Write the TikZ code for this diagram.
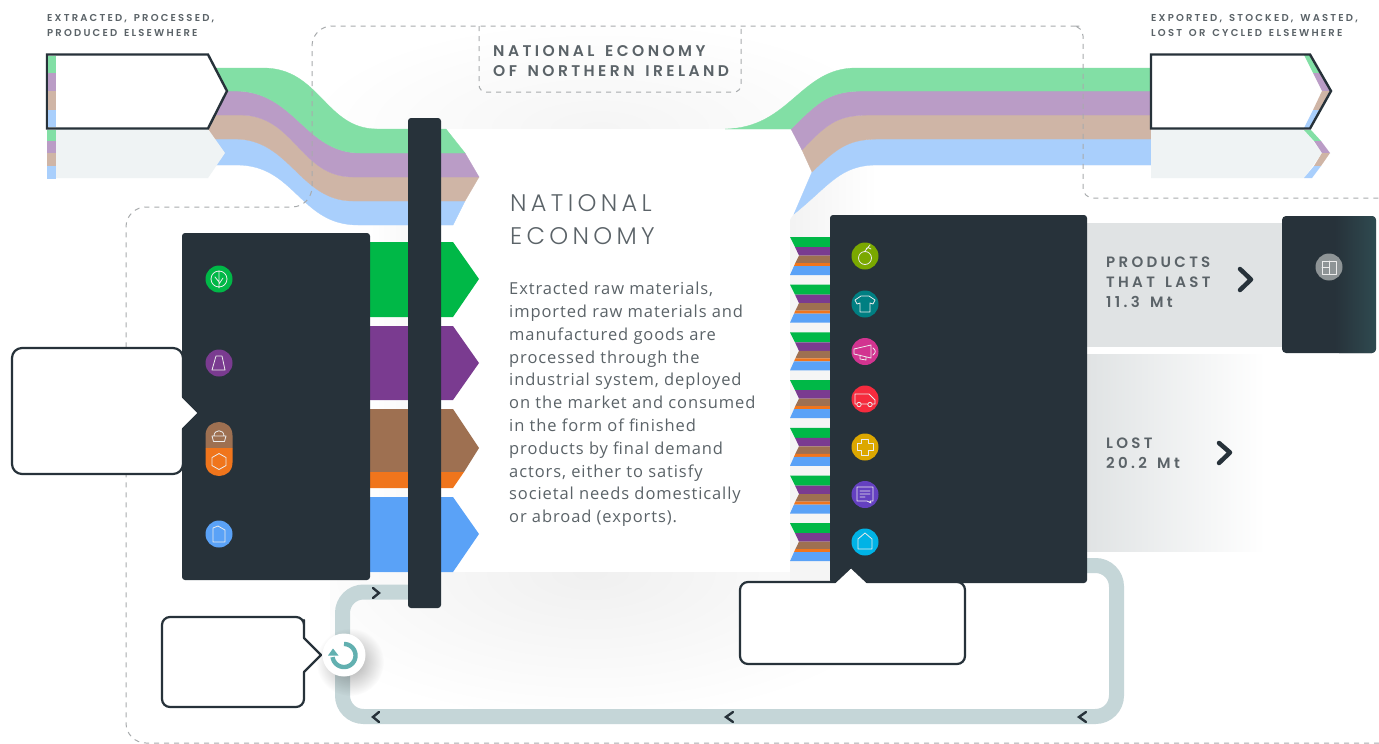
\documentclass[tikz,border=0pt]{standalone}
\usepackage{fontspec}
\setmainfont{Open Sans}
\newfontfamily\hdrfont[LetterSpace=22,WordSpace=1.5,UprightFont={* SemiBold}]{Poppins}
\newfontfamily\lightfont[LetterSpace=18,UprightFont={* Light}]{Poppins}
\newfontfamily\bodyfont[LetterSpace=5.5]{Open Sans}
\usetikzlibrary{fadings}
\definecolor{dark}{HTML}{27323A}
\definecolor{txt}{HTML}{5B6368}
\definecolor{lgreen}{HTML}{82DFA5}
\definecolor{lpurple}{HTML}{BA9CC6}
\definecolor{ltan}{HTML}{CFB5A6}
\definecolor{lblue}{HTML}{A9CFFC}
\definecolor{cgreen}{HTML}{00B847}
\definecolor{cpurple}{HTML}{7A3B90}
\definecolor{cbrown}{HTML}{9E7051}
\definecolor{corange}{HTML}{F0751C}
\definecolor{cblue}{HTML}{5AA2F7}
\definecolor{paleg}{HTML}{EFF3F4}
\definecolor{ring}{HTML}{C5D6D8}
\definecolor{teal2}{HTML}{62B0B0}
\definecolor{dashc}{HTML}{A8ABAD}
\definecolor{iapple}{HTML}{7AA800}
\definecolor{ishirt}{HTML}{007F82}
\definecolor{imega}{HTML}{D23490}
\definecolor{ivan}{HTML}{F52B3E}
\definecolor{icross}{HTML}{DCA700}
\definecolor{ichat}{HTML}{6440C0}
\definecolor{ihouse}{HTML}{00B3E6}
\definecolor{iwin}{HTML}{8E9496}
\definecolor{darkend}{HTML}{2F4A50}
\definecolor{sideg}{HTML}{E0E3E4}
\tikzfading[name=softc, inner color=transparent!65, outer color=transparent!100]
\tikzset{
  ic/.style={draw=white!85!gray, line width=0.8pt, line join=round, line cap=round},
  darkbox/.style={fill=dark, rounded corners=3pt},
  bubble/.style={draw=dark, fill=white, line width=2.2pt, line join=round},
  chev/.style={draw=dark, line width=4.5pt, line cap=round, line join=round},
  smallchev/.style={draw=dark, line width=2.4pt, line cap=round, line join=miter},
  dashline/.style={draw=dashc, line width=1pt, dash pattern=on 5pt off 5pt},
  smalltxt/.style={anchor=north west, inner sep=0pt, align=left, text=txt, font=\hdrfont\fontsize{10}{15}\selectfont},
  sidetxt/.style={anchor=north west, inner sep=0pt, align=left, text=txt, font=\hdrfont\fontsize{15}{20}\selectfont}
}
\begin{document}
\begin{tikzpicture}[x=1pt,y=-1pt]
\useasboundingbox (0,0) rectangle (1379,744);
\fill[white] (0,0) rectangle (1379,744);
% soft backgrounds
\begin{scope}
\clip (300,20) rectangle (860,129);
\shade[inner color=black!4, outer color=white] (600,129) ellipse [x radius=300, y radius=110];
\end{scope}
\begin{scope}
\clip (330,572) rectangle (860,720);
\shade[inner color=black!6, outer color=white] (590,572) ellipse [x radius=330, y radius=150];
\end{scope}
\shade[left color=white, right color=black!5] (370,215) rectangle (441,572);
\shade[left color=black!5, right color=white] (794,214) .. controls (830,185) and (840,165) .. (877,165) -- (877,237) -- (790,237) .. controls (787,230) and (787,222) .. (794,214) -- cycle;
\fill[black!4] (790,237) rectangle (830,586);
\fill[white] (441,129) rectangle (789.5,572);
% cycle ring
\draw[ring, line width=15pt, rounded corners=21pt] (420,592) -- (342.5,592) -- (342.5,716.5) -- (1116.5,716.5) -- (1116.5,565.5) -- (1080,565.5);
\draw[smallchev] (373,588) -- (379,593) -- (373,598);
\draw[smallchev] (379,712) -- (373,717) -- (379,722);
\draw[smallchev] (733,712) -- (726,717) -- (733,722);
\draw[smallchev] (1086,712) -- (1079,717) -- (1086,722);
% left flows
\fill[lblue,draw=lblue,line width=.3pt] (200,139) -- (235,139) .. controls (290,139) and (300,201) .. (353,201) -- (465,201) -- (453,225) -- (358,225) .. controls (300,225) and (295,165) .. (237,165) -- (200,165) -- cycle;
\fill[ltan,draw=ltan,line width=.3pt] (200,115) -- (240,115) .. controls (295,115) and (300,177) .. (353,177) -- (479,177) -- (465,201) -- (353,201) .. controls (300,201) and (290,139) .. (235,139) -- (200,139) -- cycle;
\fill[lpurple,draw=lpurple,line width=.3pt] (200,91) -- (235,91) .. controls (295,91) and (305,153) .. (360,153) -- (465,153) -- (479,177) -- (353,177) .. controls (300,177) and (295,115) .. (240,115) -- (200,115) -- cycle;
\fill[lgreen,draw=lgreen,line width=.3pt] (200,68) -- (263,68) .. controls (320,68) and (325,129) .. (377,129) -- (446,129) -- (465,153) -- (360,153) .. controls (305,153) and (295,91) .. (235,91) -- (200,91) -- cycle;
% right flows
\fill[lblue,draw=lblue,line width=.3pt] (812,172) .. controls (840,145) and (850,139) .. (882,139) -- (1155,139) -- (1155,165) -- (877,165) .. controls (840,165) and (830,185) .. (794,214) -- cycle;
\fill[ltan,draw=ltan,line width=.3pt] (802,150) .. controls (830,120) and (840,115) .. (873,115) -- (1155,115) -- (1155,139) -- (882,139) .. controls (850,139) and (840,145) .. (812,172) -- cycle;
\fill[lpurple,draw=lpurple,line width=.3pt] (791,129) .. controls (820,100) and (830,91) .. (865,91) -- (1155,91) -- (1155,115) -- (873,115) .. controls (840,115) and (830,120) .. (802,150) -- cycle;
\fill[lgreen,draw=lgreen,line width=.3pt] (725,129) .. controls (790,128) and (800,68) .. (856,68) -- (1155,68) -- (1155,91) -- (865,91) .. controls (830,91) and (820,100) .. (791,129) -- cycle;
% dashed boundaries
\draw[dashline, rounded corners=20pt] (1379,743) -- (126,743) -- (126,207) -- (312,207) -- (312,26) -- (1060,26) [rounded corners=10pt] -- (1083,26) -- (1083,198) -- (1379,198);
\draw[dashline, rounded corners=7pt] (479,26) -- (479,92) -- (741,92) -- (741,26);
% top left source boxes
\fill[paleg] (47,129) -- (208,129) -- (225,153) -- (208,178) -- (47,178) -- cycle;
\fill[lgreen] (47,130) rectangle (56,141);
\fill[lpurple] (47,141) rectangle (56,153);
\fill[ltan] (47,153) rectangle (56,166);
\fill[lblue] (47,166) rectangle (56,179);
\draw[draw=dark, fill=white, line width=2.4pt, line join=miter] (47,54.5) -- (208,54.5) -- (227,91) -- (208,128.5) -- (47,128.5) -- cycle;
\fill[lgreen] (48.3,55.7) rectangle (56,73);
\fill[lpurple] (48.3,73) rectangle (56,91);
\fill[ltan] (48.3,91) rectangle (56,110);
\fill[lblue] (48.3,110) rectangle (56,127.3);
% top right sink boxes
\fill[paleg] (1151,129) -- (1304,129) -- (1322,153) -- (1304,178) -- (1151,178) -- cycle;
\fill[lgreen] (1304,130) -- (1311,130) -- (1321,141) -- (1314,141) -- cycle;
\fill[lpurple] (1314,141) -- (1321,141) -- (1330,153) -- (1322,153) -- cycle;
\fill[ltan] (1322,153) -- (1330,153) -- (1321,166) -- (1314,166) -- cycle;
\fill[lblue] (1314,166) -- (1321,166) -- (1312,178) -- (1304,178) -- cycle;
\fill[white] (1151,54.5) -- (1310,54.5) -- (1331,91) -- (1310,128.5) -- (1151,128.5) -- cycle;
\fill[lgreen] (1304,55) -- (1311,55) -- (1320,73) -- (1313,73) -- cycle;
\fill[lpurple] (1313,73) -- (1320,73) -- (1330,91) -- (1322,91) -- cycle;
\fill[ltan] (1322,91) -- (1330,91) -- (1320,110) -- (1313,110) -- cycle;
\fill[lblue] (1313,110) -- (1320,110) -- (1311,128) -- (1304,128) -- cycle;
\draw[draw=dark, line width=2.4pt, line join=miter] (1151,54.5) -- (1310,54.5) -- (1331,91) -- (1310,128.5) -- (1151,128.5) -- cycle;
% coloured arrows
\fill[cgreen] (370,242) -- (453,242) -- (479,279) -- (453,317) -- (370,317) -- cycle;
\fill[cpurple] (370,326) -- (453,326) -- (479,363) -- (453,400) -- (370,400) -- cycle;
\fill[cbrown] (370,409) -- (453,409) -- (479,448) -- (464,472) -- (370,472) -- cycle;
\fill[corange] (370,472) -- (464,472) -- (453,488) -- (370,488) -- cycle;
\fill[cblue] (370,497) -- (453,497) -- (479,534) -- (453,572) -- (370,572) -- cycle;
% left dark panel and vertical bar
\path[darkbox] (182,233) rectangle (370,580);
\path[darkbox] (408,118) rectangle (441,608);
% zigzag stripes
\foreach \t in {237,284.7,332.4,380.1,427.8,475.5,523.2}{
  \begin{scope}[shift={(0,\t)}]
  \fill[cgreen] (790,0) -- (830,0) -- (830,10) -- (795,10) -- cycle;
  \fill[cpurple] (795,10) -- (830,10) -- (830,18.5) -- (799,18.5) -- cycle;
  \fill[cbrown] (799,18.5) -- (830,18.5) -- (830,26) -- (795.3,26) -- cycle;
  \fill[corange] (795.3,26) -- (830,26) -- (830,29) -- (794,29) -- cycle;
  \fill[cblue] (794,29) -- (830,29) -- (830,38) -- (790,38) -- cycle;
  \end{scope}
}
% right dark panel, side blocks
\fill[sideg] (1087,223) rectangle (1282,347);
\shade[left color=sideg, right color=white] (1087,354) rectangle (1265,551);
\path[darkbox] (830,215) rectangle (1087,583);
\path[fill=dark, rounded corners=4pt] (1282,216) rectangle (1376,353);
\shade[left color=dark, right color=darkend, rounded corners=4pt] (1335,216) rectangle (1376,353);
% speech bubbles
\draw[bubble, rounded corners=10pt] (12,348) -- (183,348) -- (183,375) [sharp corners] -- (183,397) -- (199,413) -- (183,429) -- (183,450) [rounded corners=10pt] -- (183,474) -- (12,474) -- cycle;
\draw[bubble, rounded corners=8pt] (740,582) -- (800,582) [sharp corners] -- (835,582) -- (851,567) -- (867,582) -- (900,582) [rounded corners=8pt] -- (965,582) -- (965,664) -- (740,664) -- cycle;
\draw[bubble, rounded corners=8pt] (162,617) -- (304,617) -- (304,628) [sharp corners] -- (304,638) -- (321,655) -- (304,672) -- (304,685) [rounded corners=8pt] -- (304,707) -- (162,707) -- cycle;
% recycle button
\fill[black, path fading=softc] (350,662) circle (34);
\fill[white] (344,655) circle (21.5);
\draw[teal2, line width=4.4pt] plot[domain=-90:172, samples=50] ({344+11.5*cos(\x)},{655.5+11.5*sin(\x)});
\fill[teal2] (328,655.5) -- (338.5,655.5) -- (333,648.5) -- cycle;
% left icons
\fill[cgreen] (219,279) circle (13.5);
\draw[ic] (219,279) circle (8) (219,288) -- (219,272) (219,282) -- (215,277) (219,284) -- (223,278);
\fill[cpurple] (219,363) circle (13.5);
\draw[ic] (216,356) -- (222,356) -- (225,370) -- (212,370) -- cycle;
\fill[cbrown] (205.5,448) -- (205.5,435.5) .. controls (205.5,417.5) and (232.5,417.5) .. (232.5,435.5) -- (232.5,448) -- cycle;
\fill[corange] (205.5,448) -- (205.5,462.5) .. controls (205.5,480.5) and (232.5,480.5) .. (232.5,462.5) -- (232.5,448) -- cycle;
\draw[ic] (212,436) -- (226,436) -- (224.5,441.5) -- (213.5,441.5) -- cycle (214,436) .. controls (214,429) and (224,429) .. (224,436);
\draw[ic] (219,453.5) -- (226,457.5) -- (226,465.5) -- (219,469.5) -- (212,465.5) -- (212,457.5) -- cycle;
\fill[cblue] (219,534) circle (13.5);
\draw[ic] (213,528) -- (218,526) -- (225,530) -- (225,542) -- (213,542) -- cycle;
% right icons
\fill[iapple] (865,256) circle (13.5);
\draw[ic] (865,258) circle (6.5) (865,251) -- (870,245) (866,250) .. controls (866,247) and (870,247) .. (871,249);
\fill[ishirt] (865,304) circle (13.5);
\draw[ic] (861,296) -- (869,296) -- (875,300) -- (873,304) -- (870,303) -- (870,312) -- (860,312) -- (860,303) -- (857,304) -- (855,300) -- cycle;
\fill[imega] (865,351.5) circle (13.5);
\draw[ic] (854,349) -- (871,345) -- (871,358) -- (854,354) -- cycle (860,355) -- (860,359) -- (866,360) -- (866,357) (873,348) .. controls (876,350) and (876,353) .. (873,355);
\fill[ivan] (865,399) circle (13.5);
\draw[ic] (855,394) -- (869,394) -- (875,400) -- (875,404) -- (855,404) -- cycle;
\fill[ivan] (859,404.5) circle (2.5) (870,404.5) circle (2.5);
\draw[ic] (859,404.5) circle (2.2) (870,404.5) circle (2.2);
\fill[icross] (865,447) circle (13.5);
\draw[ic] (861.5,439) -- (868.5,439) -- (868.5,443.5) -- (873,443.5) -- (873,450.5) -- (868.5,450.5) -- (868.5,455) -- (861.5,455) -- (861.5,450.5) -- (857,450.5) -- (857,443.5) -- (861.5,443.5) -- cycle;
\fill[ichat] (865,494.5) circle (13.5);
\draw[ic] (857,487) -- (873,487) -- (873,501) -- (870,501) -- (871,503) -- (867,501) -- (857,501) -- cycle (860,491) -- (870,491) (860,494) -- (870,494) (860,497) -- (865,497);
\fill[ihouse] (865,542) circle (13.5);
\draw[ic] (858,539) -- (865,533) -- (872,539) -- (872,549) -- (858,549) -- cycle;
\fill[iwin] (1329,267) circle (13.5);
\draw[ic] (1322,261) rectangle (1336,274) (1329,261) -- (1329,274) (1322,267) -- (1329,267);
% chevrons
\draw[chev] (1240,269) -- (1251,279.5) -- (1240,290);
\draw[chev] (1219,443) -- (1230,452.5) -- (1219,463);
% text
\node[smalltxt] (lefthead) at (47,14) {EXTRACTED, PROCESSED,\\PRODUCED ELSEWHERE};
\node[smalltxt] (righthead) at (1151,14) {EXPORTED, STOCKED, WASTED,\\LOST OR CYCLED ELSEWHERE};
\node[anchor=north west, inner sep=0pt, align=left, text=txt, font=\hdrfont\fontsize{15.5}{20}\selectfont] (nihead) at (493,45.5) {NATIONAL ECONOMY\\OF NORTHERN IRELAND};
\node[anchor=north west, inner sep=0pt, align=left, text=txt, font=\lightfont\fontsize{24}{33}\selectfont] (nattitle) at (510,194.5) {NATIONAL\\ECONOMY};
\node[anchor=north west, inner sep=0pt, align=left, text=txt, font=\bodyfont\fontsize{16.5}{22.8}\selectfont] (body) at (509,282) {Extracted raw materials,\\imported raw materials and\\manufactured goods are\\processed through the\\industrial system, deployed\\on the market and consumed\\in the form of finished\\products by final demand\\actors, either to satisfy\\societal needs domestically\\or abroad (exports).};
\node[sidetxt] (lasting) at (1106,256.5) {PRODUCTS\\THAT LAST\\11.3 Mt};
\node[sidetxt] (lost) at (1106,437.5) {LOST\\20.2 Mt};
\end{tikzpicture}
\end{document}
